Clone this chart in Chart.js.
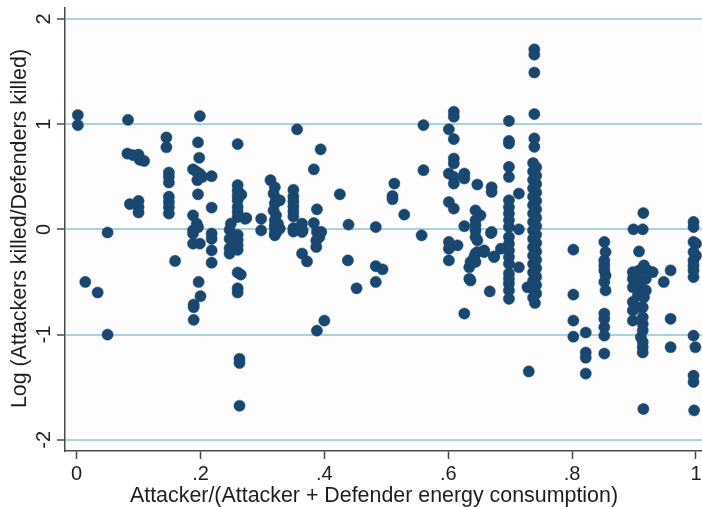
<!DOCTYPE html>
<html>
<head>
<meta charset="utf-8">
<script src="https://cdn.jsdelivr.net/npm/chart.js@4"></script>
<style>
  html, body { margin: 0; padding: 0; background: #ffffff; }
  #c { display: block; }
</style>
</head>
<body>
<canvas id="c" width="702" height="507"></canvas>
<script>
// ---- tick labels / titles ----
const xTickValues = [0, 0.2, 0.4, 0.6, 0.8, 1];
const xTickLabels = ['0', '.2', '.4', '.6', '.8', '1'];
const yTickValues = [-2, -1, 0, 1, 2];
const yTickLabels = ['-2', '-1', '0', '1', '2'];
const xTitle = 'Attacker/(Attacker + Defender energy consumption)';
const yTitle = 'Log (Attackers killed/Defenders killed)';

// ---- data, [x, y] pairs grouped by region ----
const groupA = [
  [0.002,1.086],[0.002,0.99],[0.014,-0.50],[0.034,-0.60],[0.05,-0.03],[0.05,-1.0],
  [0.083,1.04],[0.082,0.72],[0.091,0.705],[0.10,0.71],[0.102,0.66],[0.109,0.65],
  [0.086,0.24],[0.10,0.27],[0.10,0.21],[0.10,0.16]
];
const groupB = [
  [0.145,0.873],[0.145,0.78],[0.149,0.54],[0.149,0.50],[0.149,0.445],[0.149,0.31],
  [0.149,0.26],[0.149,0.21],[0.149,0.15],[0.159,-0.30],
  [0.199,1.076],[0.196,0.826],[0.198,0.68],[0.188,0.571],[0.194,0.546],[0.199,0.527],
  [0.203,0.498],[0.195,0.467],[0.218,0.505],[0.196,0.333],[0.218,0.207],[0.188,0.133],
  [0.194,0.054],[0.188,-0.01],[0.188,-0.04],[0.196,0.02],[0.188,-0.136],[0.199,-0.136],
  [0.218,-0.04],[0.218,-0.09],[0.218,-0.2],[0.218,-0.317],[0.197,-0.50],[0.20,-0.635],
  [0.189,-0.714],[0.189,-0.74],[0.189,-0.86]
];
const groupC = [
  [0.26,0.42],[0.26,0.37],[0.26,0.32],[0.26,0.276],[0.26,0.212],[0.26,0.164],[0.26,0.117],
  [0.249,0.054],[0.247,-0.005],[0.26,-0.052],[0.26,-0.1],[0.26,-0.148],[0.26,-0.195],
  [0.247,-0.09],[0.247,-0.18],[0.247,-0.23],
  [0.26,0.81],[0.266,0.33],[0.274,0.107],[0.272,0.10],
  [0.26,-0.41],[0.265,-0.43],[0.26,-0.56],[0.26,-0.60],[0.263,-1.23],[0.263,-1.27],[0.263,-1.676]
];
const groupD = [
  [0.298,0.10],[0.298,-0.01],[0.313,0.467],[0.32,0.40],[0.318,0.34],[0.322,0.29],[0.32,0.245],
  [0.318,0.18],[0.322,0.133],[0.32,0.086],[0.32,0.038],[0.323,-0.025],[0.328,0.276],
  [0.325,0.054],[0.32,0.007],[0.32,-0.057],[0.328,0.007],[0.32,-0.04],
  [0.35,0.376],[0.35,0.312],[0.35,0.264],[0.35,0.217],[0.35,0.17],[0.35,0.122],[0.35,0.011],[0.35,-0.021],
  [0.356,0.95],[0.357,0.007],[0.364,0.054],[0.364,-0.025],[0.365,-0.01],[0.364,-0.23],[0.372,-0.305],
  [0.394,0.76],[0.383,0.57],[0.388,0.19],[0.383,0.06],[0.388,-0.025],[0.395,-0.025],
  [0.392,-0.073],[0.387,-0.105],[0.387,-0.168],[0.40,-0.867],[0.388,-0.962]
];
const groupE = [
  [0.425,0.333],[0.439,0.045],[0.438,-0.295],[0.452,-0.56],[0.483,0.022],[0.483,-0.35],
  [0.494,-0.38],[0.483,-0.50],[0.513,0.435],[0.51,0.317],[0.51,0.286],[0.529,0.14],
  [0.56,0.99],[0.56,0.562],[0.557,-0.057]
];
const groupF = [
  [0.609,1.117],[0.609,1.07],[0.601,0.95],[0.609,0.857],[0.609,0.673],[0.609,0.626],
  [0.601,0.53],[0.609,0.498],[0.609,0.435],[0.601,0.26],[0.609,0.197],[0.601,-0.12],
  [0.615,-0.152],[0.601,-0.184],[0.601,-0.295],
  [0.626,0.53],[0.626,0.483],[0.626,0.03],[0.634,-0.36],[0.634,-0.47],[0.626,-0.80],
  [0.647,0.426],[0.644,0.18],[0.652,0.133],[0.644,0.086],[0.644,0.038],[0.644,-0.01],
  [0.644,-0.073],[0.647,-0.105],[0.647,-0.216],[0.642,-0.264],[0.636,-0.31],[0.636,-0.486],
  [0.644,-0.23],[0.644,-0.31],[0.658,-0.2],[0.658,-0.216],
  [0.67,0.40],[0.67,0.355],[0.67,-0.025],[0.669,-0.035],[0.674,-0.264],[0.674,-0.257],
  [0.667,-0.59],[0.685,-0.184]
];
const groupG = [
  [0.698,1.03],[0.698,0.84],[0.698,0.816],[0.698,0.593],[0.698,0.498],[0.698,0.276],
  [0.698,0.21],[0.698,0.15],[0.698,0.086],[0.698,0.022],[0.698,-0.073],[0.698,-0.136],
  [0.698,-0.2],[0.698,-0.264],[0.698,-0.327],[0.698,-0.42],[0.698,-0.47],[0.698,-0.517],
  [0.698,-0.58],[0.698,-0.66],
  [0.714,0.34],[0.714,0.0],[0.714,-0.36],[0.728,-0.55],[0.73,-1.35],
  [0.739,1.71],[0.739,1.66],[0.739,1.49],[0.739,1.095],[0.739,0.864],[0.739,0.784],
  [0.737,0.63],[0.742,0.59],[0.737,0.55],[0.742,0.51],[0.737,0.47],[0.742,0.43],
  [0.737,0.39],[0.742,0.35],[0.737,0.31],[0.742,0.27],[0.737,0.23],[0.742,0.19],
  [0.737,0.15],[0.742,0.11],[0.737,0.07],[0.742,0.03],[0.737,-0.01],[0.742,-0.05],
  [0.737,-0.09],[0.742,-0.13],[0.737,-0.17],[0.742,-0.21],[0.737,-0.25],[0.742,-0.29],
  [0.737,-0.33],[0.742,-0.37],[0.737,-0.41],[0.742,-0.45],[0.737,-0.49],[0.742,-0.53],
  [0.737,-0.57],[0.742,-0.61],[0.737,-0.65],[0.740,-0.70]
];
const groupH = [
  [0.802,-0.193],[0.802,-0.62],[0.802,-0.867],[0.802,-1.02],[0.822,-0.98],[0.822,-1.17],
  [0.822,-1.22],[0.822,-1.37],
  [0.852,-0.12],[0.854,-0.216],[0.852,-0.295],[0.852,-0.343],[0.852,-0.39],[0.854,-0.438],
  [0.852,-0.50],[0.854,-0.58],[0.852,-0.80],[0.852,-0.85],[0.852,-0.93],[0.852,-1.01],[0.852,-1.18]
];
const groupI = [
  [0.915,0.155],[0.899,0.0],[0.914,0.0],[0.908,-0.21],
  [0.898,-0.407],[0.908,-0.39],[0.916,-0.343],[0.922,-0.39],[0.93,-0.407],[0.898,-0.47],
  [0.906,-0.486],[0.919,-0.47],[0.898,-0.55],[0.911,-0.55],[0.919,-0.58],[0.906,-0.63],
  [0.916,-0.645],[0.898,-0.69],[0.906,-0.74],[0.898,-0.77],[0.914,-0.74],[0.898,-0.867],
  [0.914,-0.835],[0.914,-0.90],[0.914,-0.96],[0.911,-1.026],[0.914,-1.07],[0.914,-1.12],
  [0.914,-1.17],[0.959,-0.39],[0.948,-0.50],[0.959,-0.85],[0.959,-1.12],[0.915,-1.707]
];
const groupJ = [
  [0.996,0.07],[0.996,0.022],[1.0,-0.136],[0.996,-0.12],[0.996,-0.216],[1.0,-0.25],
  [0.996,-0.295],[0.996,-0.343],[0.996,-0.39],[0.996,-0.454],[0.996,-1.01],[0.999,-1.12],
  [0.996,-1.39],[0.996,-1.45],[0.997,-1.72]
];

const allPoints = [].concat(groupA, groupB, groupC, groupD, groupE, groupF, groupG, groupH, groupI, groupJ)
  .map(p => ({ x: p[0], y: p[1] }));

const TEXT_COLOR = '#1e1e1e';
const AXIS_COLOR = '#4a4a4a';

const textPlugin = {
  id: 'stataText',
  beforeDraw(chart) {
    const ctx = chart.ctx;
    ctx.save();
    ctx.fillStyle = '#ffffff';
    ctx.fillRect(0, 0, chart.width, chart.height);
    const a = chart.chartArea;
    ctx.fillStyle = '#fdfdfe';
    ctx.fillRect(a.left, a.top, a.right - a.left, a.bottom - a.top);
    ctx.restore();
  },
  afterDraw(chart) {
    const ctx = chart.ctx;
    const xs = chart.scales.x, ys = chart.scales.y;
    ctx.save();
    ctx.fillStyle = TEXT_COLOR;
    // x tick labels
    ctx.font = '20px "Liberation Sans", Arial, sans-serif';
    ctx.textAlign = 'center';
    ctx.textBaseline = 'alphabetic';
    xTickValues.forEach((v, i) => {
      ctx.fillText(xTickLabels[i], xs.getPixelForValue(v), 480);
    });
    // y tick labels (rotated)
    yTickValues.forEach((v, i) => {
      const py = ys.getPixelForValue(v);
      ctx.save();
      ctx.translate(50, py);
      ctx.rotate(-Math.PI / 2);
      ctx.fillText(yTickLabels[i], 0, 0);
      ctx.restore();
    });
    // titles
    ctx.font = '21.4px "Liberation Sans", Arial, sans-serif';
    ctx.fillText(xTitle, 374, 502);
    ctx.save();
    ctx.translate(26, 228.5);
    ctx.rotate(-Math.PI / 2);
    ctx.fillText(yTitle, 0, 0);
    ctx.restore();
    ctx.restore();
  }
};

new Chart(document.getElementById('c'), {
  type: 'scatter',
  data: {
    datasets: [{
      data: allPoints,
      backgroundColor: '#1a476f',
      borderColor: '#1a476f',
      borderWidth: 0.5,
      pointRadius: 5.6,
      pointHoverRadius: 5.6
    }]
  },
  options: {
    responsive: false,
    animation: false,
    devicePixelRatio: 1,
    layout: { autoPadding: false, padding: { top: 8, right: 0, bottom: 0, left: 0 } },
    plugins: { legend: { display: false }, tooltip: { enabled: false } },
    scales: {
      x: {
        type: 'linear',
        min: -0.01873,
        max: 1.00969,
        afterBuildTicks: s => { s.ticks = xTickValues.map(v => ({ value: v })); },
        afterFit: s => { s.height = 56; },
        ticks: { display: false },
        grid: { drawOnChartArea: false, drawTicks: true, tickLength: 8, tickColor: AXIS_COLOR, tickWidth: 1.5 },
        border: { display: true, color: AXIS_COLOR, width: 1.5 }
      },
      y: {
        type: 'linear',
        min: -2.106,
        max: 2.103,
        afterBuildTicks: s => { s.ticks = yTickValues.map(v => ({ value: v })); },
        afterFit: s => { s.width = 65; },
        ticks: { display: false },
        grid: { color: '#a9d3de', lineWidth: 2, drawTicks: true, tickLength: 8, tickColor: AXIS_COLOR, tickWidth: 1.5 },
        border: { display: true, color: AXIS_COLOR, width: 1.5 }
      }
    }
  },
  plugins: [textPlugin]
});
</script>
</body>
</html>
